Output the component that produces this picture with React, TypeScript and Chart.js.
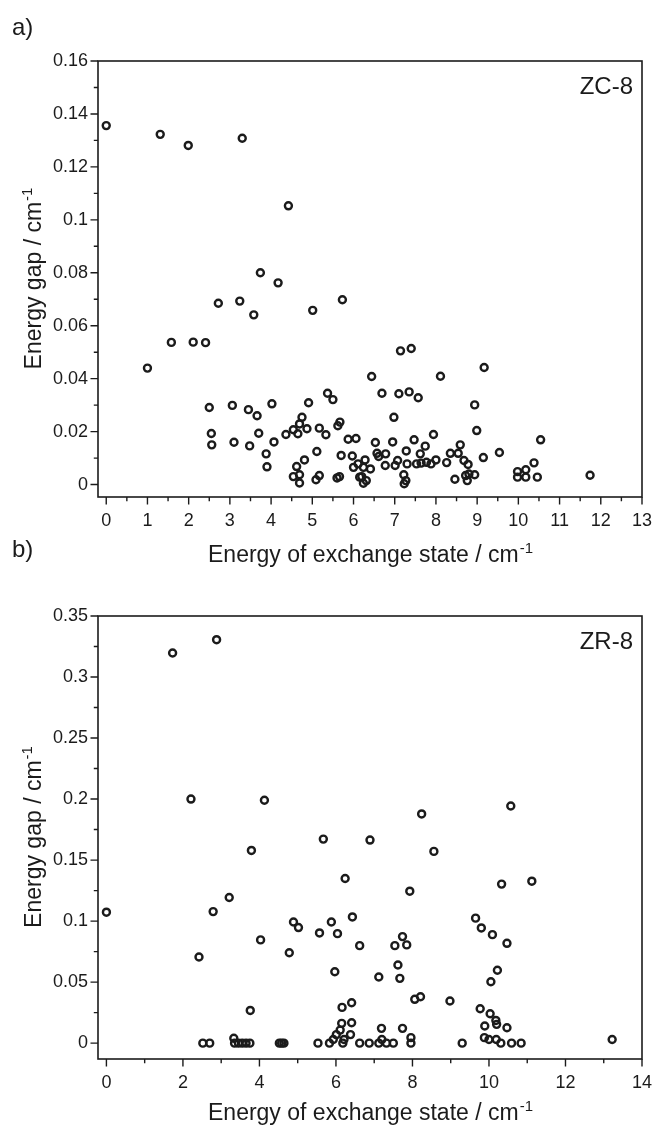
import React, { useEffect, useRef } from "react";
import { Chart, registerables } from "chart.js";

Chart.register(...registerables);

const FONT = '"Liberation Sans", Arial, sans-serif';
const INK = "#1b1b1b";

// ZC-8: energy of exchange state (cm^-1) vs. energy gap (cm^-1)
const zcExchange = [
  0, 1.31, 1.99, 3.3, 4.42, 1.0, 1.58, 2.11, 2.41, 2.72, 3.24, 3.58, 3.74, 4.17, 5.01, 5.73,
  2.5, 2.55, 2.56, 3.06, 3.1, 3.45, 3.48, 3.66, 3.7, 3.88, 3.9, 4.02, 4.07, 4.36, 4.54, 4.65,
  4.69, 4.75, 4.87, 4.91, 4.62, 4.54, 4.69, 4.69, 4.81, 5.09, 5.17, 5.11, 5.17, 5.33, 5.37, 5.5,
  5.62, 5.67, 5.7, 5.6, 5.66, 5.87, 5.97, 6.0, 6.06, 6.11, 6.15,
  6.44, 6.69, 7.1, 7.35, 7.57, 7.14, 7.4, 8.11, 9.17, 6.98, 8.94, 8.99, 7.94, 7.47, 6.95, 6.53,
  7.74, 8.59, 10.54, 9.54, 9.15, 7.28, 7.62, 8.35, 8.54, 6.57, 6.78, 6.61, 6.28, 6.41, 6.24, 6.2,
  6.24, 6.31, 6.77, 7.01, 7.07, 7.3, 7.53, 7.64, 7.77, 7.88, 8.0, 8.26, 8.68, 8.78, 7.22, 7.27,
  7.23, 8.46, 8.72, 8.8, 8.76, 8.94, 9.98, 10.18, 10.38, 9.98, 10.18, 10.46, 11.74,
];
const zcGap = [
  0.1356, 0.1323, 0.1281, 0.1308, 0.1053, 0.044, 0.0537, 0.0538, 0.0536, 0.0685, 0.0693, 0.0641, 0.08, 0.0762, 0.0658, 0.0698,
  0.0291, 0.0193, 0.015, 0.0299, 0.016, 0.0283, 0.0146, 0.026, 0.0194, 0.0116, 0.0067, 0.0305, 0.0161, 0.0189, 0.0207, 0.0192,
  0.0229, 0.0254, 0.0211, 0.0309, 0.0068, 0.003, 0.0037, 0.0006, 0.0093, 0.0018, 0.0034, 0.0125, 0.0213, 0.0188, 0.0345, 0.0321,
  0.0222, 0.0236, 0.011, 0.0025, 0.003, 0.0171, 0.0108, 0.0065, 0.0174, 0.0078, 0.0028,
  0.0408, 0.0345, 0.0343, 0.035, 0.0328, 0.0505, 0.0514, 0.0409, 0.0442, 0.0254, 0.0301, 0.0204, 0.0189, 0.0169, 0.0161, 0.0159,
  0.0145, 0.015, 0.0169, 0.0121, 0.0102, 0.0127, 0.0116, 0.0118, 0.0118, 0.0118, 0.0116, 0.0106, 0.0093, 0.0059, 0.0065, 0.003,
  0.0005, 0.0015, 0.0072, 0.0072, 0.0091, 0.0078, 0.0078, 0.0081, 0.0084, 0.0078, 0.0093, 0.0083, 0.0091, 0.0076, 0.0037, 0.0015,
  0.0003, 0.002, 0.0034, 0.004, 0.0015, 0.0037, 0.0049, 0.0056, 0.0082, 0.0028, 0.0028, 0.0028, 0.0035,
];

// ZR-8: energy of exchange state (cm^-1) vs. energy gap (cm^-1)
const zrExchange = [
  1.73, 2.88, 2.21, 4.13, 0, 2.42, 2.79, 3.21, 3.79, 3.76, 4.03, 4.78, 4.89, 5.02, 5.67, 5.57,
  5.88, 6.04, 6.24, 6.43, 6.62, 5.97, 6.41, 6.16, 6.15, 6.41, 8.24, 10.57, 6.89, 8.56, 7.93, 10.33,
  11.12, 9.65, 9.8, 10.09, 10.47, 7.74, 7.54, 7.85, 7.62, 7.12, 7.67, 10.22, 10.05, 8.06, 8.21, 8.98,
  9.77, 10.03, 10.18, 9.89, 10.2, 10.47, 7.19, 7.74,
  2.52, 2.7, 3.33, 3.35, 3.45, 3.55, 3.65, 3.75, 4.52, 4.58, 4.64, 5.53, 5.83, 5.93, 6.01, 6.11,
  6.18, 6.21, 6.38, 6.62, 6.87, 7.12, 7.2, 7.32, 7.5, 7.96, 7.96, 9.3, 9.88, 10.0, 10.19, 10.31,
  10.59, 10.84, 13.22,
];
const zrGap = [
  0.3197, 0.3306, 0.2, 0.199, 0.1073, 0.0706, 0.1078, 0.1193, 0.1579, 0.0268, 0.0846, 0.0741, 0.0993, 0.0947, 0.1672, 0.0903,
  0.0993, 0.0897, 0.1349, 0.1034, 0.0799, 0.0585, 0.0331, 0.0293, 0.0162, 0.0167, 0.1878, 0.1943, 0.1664, 0.1571, 0.1245, 0.1303,
  0.1327, 0.1024, 0.0944, 0.0889, 0.0818, 0.0873, 0.0799, 0.0805, 0.064, 0.0542, 0.0531, 0.0597, 0.0503, 0.0359, 0.038, 0.0345,
  0.0282, 0.0241, 0.0186, 0.014, 0.0154, 0.0126, 0.0121, 0.0121,
  0, 0, 0.004, 0, 0, 0, 0, 0, 0, 0, 0, 0, 0, 0.003, 0.007, 0.0107,
  0, 0.003, 0.007, 0, 0, 0, 0.003, 0, 0, 0.0045, 0, 0, 0.0045, 0.003, 0.003, 0,
  0, 0, 0.003,
];

// Axis ticks (labelled majors)
const zcXTicks = [0, 1, 2, 3, 4, 5, 6, 7, 8, 9, 10, 11, 12, 13];
const zcYTicks = [0, 0.02, 0.04, 0.06, 0.08, 0.1, 0.12, 0.14, 0.16];
const zrXTicks = [0, 2, 4, 6, 8, 10, 12, 14];
const zrYTicks = [0, 0.05, 0.1, 0.15, 0.2, 0.25, 0.3, 0.35];

const X_TITLE = "Energy of exchange state / cm";
const Y_TITLE = "Energy gap / cm";
const UNIT_SUP = "-1";

type PanelProps = {
  tag: string;
  name: string;
  xs: number[];
  ys: number[];
  xMin: number;
  xMax: number;
  yMin: number;
  yMax: number;
  xTicks: number[];
  yTicks: number[];
  top: number;
  height: number;
  padTop: number;
  axisH: number;
  tagY: number;
  xTitleOffset: number;
};

function midpoints(t: number[]) {
  const out: number[] = [];
  for (let i = 0; i < t.length - 1; i++) out.push((t[i] + t[i + 1]) / 2);
  return out;
}

// Draws the closed frame, outward major/minor tick marks, axis titles with the
// superscript unit, the sample name and the panel tag.
const framePlugin = {
  id: "panelFrame",
  afterDraw(chart: any, _args: any, opts: any) {
    const { ctx, chartArea: a, scales } = chart;
    const xs = scales.x;
    const ys = scales.y;
    ctx.save();
    ctx.strokeStyle = INK;
    ctx.lineWidth = 1.6;
    ctx.strokeRect(a.left, a.top, a.right - a.left, a.bottom - a.top);

    ctx.lineWidth = 1.4;
    ctx.beginPath();
    const xMaj: number[] = opts.xTicks;
    const yMaj: number[] = opts.yTicks;
    for (const v of xMaj) {
      const p = xs.getPixelForValue(v);
      ctx.moveTo(p, a.bottom);
      ctx.lineTo(p, a.bottom + 7.5);
    }
    for (const v of midpoints(xMaj)) {
      const p = xs.getPixelForValue(v);
      ctx.moveTo(p, a.bottom);
      ctx.lineTo(p, a.bottom + 4.2);
    }
    for (const v of yMaj) {
      const p = ys.getPixelForValue(v);
      ctx.moveTo(a.left, p);
      ctx.lineTo(a.left - 7.5, p);
    }
    for (const v of midpoints(yMaj)) {
      const p = ys.getPixelForValue(v);
      ctx.moveTo(a.left, p);
      ctx.lineTo(a.left - 4.2, p);
    }
    ctx.stroke();

    ctx.fillStyle = INK;
    ctx.textBaseline = "alphabetic";

    // x title
    ctx.font = `23px ${FONT}`;
    const mainW = ctx.measureText(X_TITLE).width;
    ctx.font = `15px ${FONT}`;
    const supW = ctx.measureText(UNIT_SUP).width;
    const cx = (a.left + a.right) / 2;
    const bx = cx - (mainW + supW) / 2;
    const by = a.bottom + opts.xTitleOffset;
    ctx.font = `23px ${FONT}`;
    ctx.textAlign = "left";
    ctx.fillText(X_TITLE, bx, by);
    ctx.font = `15px ${FONT}`;
    ctx.fillText(UNIT_SUP, bx + mainW + 1, by - 9);

    // y title (rotated, centred on the axis)
    ctx.save();
    ctx.font = `23px ${FONT}`;
    const yMainW = ctx.measureText(Y_TITLE).width;
    ctx.font = `15px ${FONT}`;
    const ySupW = ctx.measureText(UNIT_SUP).width;
    const cy = (a.top + a.bottom) / 2;
    ctx.translate(opts.yTitleX, cy);
    ctx.rotate(-Math.PI / 2);
    const sx = -(yMainW + ySupW) / 2;
    ctx.font = `23px ${FONT}`;
    ctx.fillText(Y_TITLE, sx, 0);
    ctx.font = `15px ${FONT}`;
    ctx.fillText(UNIT_SUP, sx + yMainW + 1, -9);
    ctx.restore();

    // sample name
    ctx.font = `24px ${FONT}`;
    ctx.textAlign = "right";
    ctx.fillText(opts.name, a.right - 9, a.top + 33);

    // panel tag
    ctx.textAlign = "left";
    ctx.fillText(opts.tag, 12, opts.tagY);
    ctx.restore();
  },
};

function Panel(p: PanelProps) {
  const ref = useRef<HTMLCanvasElement | null>(null);

  useEffect(() => {
    if (!ref.current) return;
    const points = p.xs.map((x, i) => ({ x, y: p.ys[i] }));
    const tickFont = { family: FONT, size: 18 };
    const chart = new Chart(ref.current, {
      type: "scatter",
      data: {
        datasets: [
          {
            data: points,
            pointStyle: "circle",
            pointRadius: 3.5,
            pointHoverRadius: 3.5,
            pointBorderWidth: 2.4,
            pointBorderColor: INK,
            pointBackgroundColor: "rgba(255,255,255,0)",
            borderColor: INK,
            showLine: false,
            clip: false,
          } as any,
        ],
      },
      options: {
        responsive: false,
        animation: false,
        events: [],
        layout: { padding: { left: 0, right: 12, top: p.padTop, bottom: 0 } },
        plugins: {
          legend: { display: false },
          tooltip: { enabled: false },
          panelFrame: {
            xTicks: p.xTicks,
            yTicks: p.yTicks,
            name: p.name,
            tag: p.tag,
            tagY: p.tagY,
            xTitleOffset: p.xTitleOffset,
            yTitleX: 41,
          },
        } as any,
        scales: {
          x: {
            type: "linear",
            position: "bottom",
            min: p.xMin,
            max: p.xMax,
            grid: { display: false, drawTicks: false, tickLength: 0 },
            border: { display: false },
            afterBuildTicks: (s: any) => {
              s.ticks = p.xTicks.map((v) => ({ value: v }));
            },
            afterFit: (s: any) => {
              s.height = p.axisH;
              s.paddingLeft = 0;
              s.paddingRight = 0;
            },
            ticks: {
              padding: 13,
              autoSkip: false,
              maxRotation: 0,
              color: INK,
              font: tickFont,
              callback: (v: any) => String(v),
            },
          },
          y: {
            type: "linear",
            position: "left",
            min: p.yMin,
            max: p.yMax,
            grid: { display: false, drawTicks: false, tickLength: 0 },
            border: { display: false },
            afterBuildTicks: (s: any) => {
              s.ticks = p.yTicks.map((v) => ({ value: v }));
            },
            afterFit: (s: any) => {
              s.width = 98;
              s.paddingTop = 0;
              s.paddingBottom = 0;
            },
            ticks: {
              padding: 10,
              autoSkip: false,
              color: INK,
              font: tickFont,
              callback: (v: any) => String(v),
            },
          },
        },
      },
      plugins: [framePlugin],
    });
    return () => chart.destroy();
  }, []);

  return (
    <canvas
      ref={ref}
      width={654}
      height={p.height}
      style={{ position: "absolute", left: 0, top: p.top, width: 654, height: p.height }}
    />
  );
}

export default function App() {
  return (
    <div
      style={{
        position: "absolute",
        left: 0,
        top: 0,
        width: 654,
        height: 1126,
        background: "#ffffff",
        overflow: "hidden",
      }}
    >
      <Panel
        tag="a)"
        name="ZC-8"
        xs={zcExchange}
        ys={zcGap}
        xMin={-0.2}
        xMax={13}
        yMin={-0.0047}
        yMax={0.16}
        xTicks={zcXTicks}
        yTicks={zcYTicks}
        top={0}
        height={590}
        padTop={61}
        axisH={590 - 497}
        tagY={35}
        xTitleOffset={65}
      />
      <Panel
        tag="b)"
        name="ZR-8"
        xs={zrExchange}
        ys={zrGap}
        xMin={-0.22}
        xMax={14}
        yMin={-0.013}
        yMax={0.35}
        xTicks={zrXTicks}
        yTicks={zrYTicks}
        top={535}
        height={591}
        padTop={81}
        axisH={591 - 524}
        tagY={22}
        xTitleOffset={61}
      />
    </div>
  );
}
